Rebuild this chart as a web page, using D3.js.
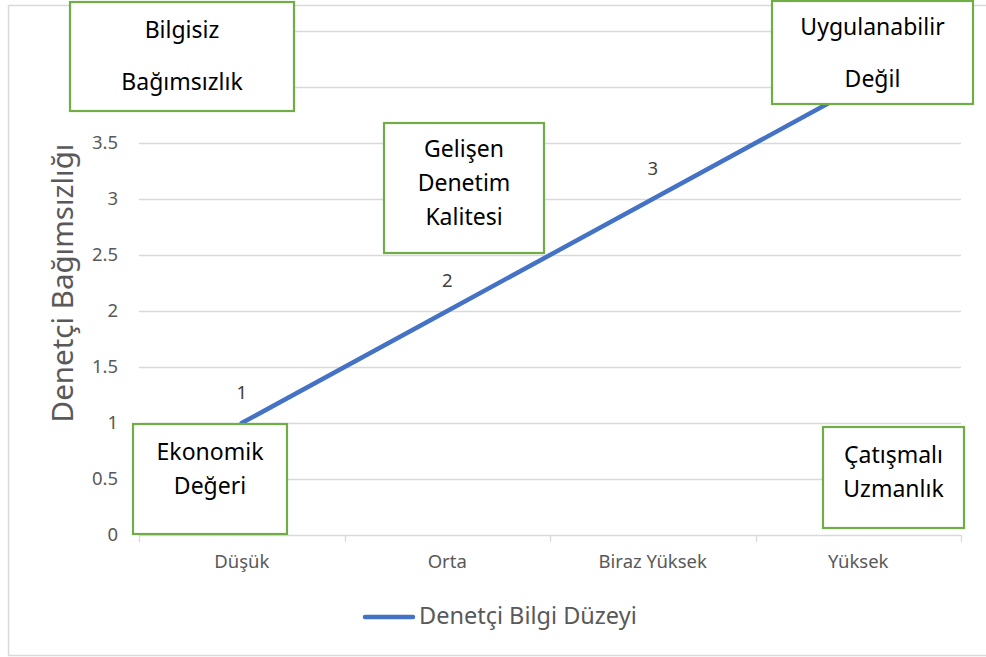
<!DOCTYPE html>
<html>
<head>
<meta charset="utf-8">
<script src="https://cdn.jsdelivr.net/npm/d3@7"></script>
<style>
  body { margin: 0; background: #fff; }
  svg text { font-family: "Noto Sans", "Open Sans", sans-serif; }
</style>
</head>
<body>
<div id="chart"></div>
<script>
// chart data
var categories = ["Düşük", "Orta", "Biraz Yüksek", "Yüksek"];
var values = [1, 2, 3, 4];
var yTicks = [0, 0.5, 1, 1.5, 2, 2.5, 3, 3.5, 4, 4.5];
var seriesName = "Denetçi Bilgi Düzeyi";
var yTitle = "Denetçi Bağımsızlığı";

// annotation box texts
var boxTexts = [
    ["Bilgisiz", "Bağımsızlık"],
    ["Uygulanabilir", "Değil"],
    ["Gelişen", "Denetim", "Kalitesi"],
    ["Ekonomik", "Değeri"],
    ["Çatışmalı", "Uzmanlık"]
];

// box layout (pixels): x, y, w, h, first baseline, line gap
var boxLayout = [
    { x: 70, y: 2, w: 224, h: 109, first: 38, gap: 52 },
    { x: 772, y: 1, w: 201, h: 103, first: 35, gap: 52 },
    { x: 384, y: 123, w: 160, h: 130, first: 157, gap: 34 },
    { x: 133, y: 424, w: 154, h: 110, first: 460, gap: 34 },
    { x: 823, y: 427, w: 141, h: 101, first: 463, gap: 34 }
];

var width = 986, height = 657;
var margin = { left: 139, right: 25, top: 31, bottom: 122 };

var svg = d3.select("#chart").append("svg")
    .attr("width", width)
    .attr("height", height);

// outer chart border
svg.append("rect")
    .attr("x", 8.5).attr("y", 5.5)
    .attr("width", 990).attr("height", 650)
    .attr("fill", "#fff")
    .attr("stroke", "#d9d9d9")
    .attr("stroke-width", 1.5);

var x = d3.scaleBand()
    .domain(categories)
    .range([margin.left, width - margin.right]);

var y = d3.scaleLinear()
    .domain([0, 4.5])
    .range([height - margin.bottom, margin.top]);

// gridlines
svg.append("g").selectAll("line")
    .data(yTicks)
    .enter().append("line")
    .attr("x1", x.range()[0]).attr("x2", x.range()[1])
    .attr("y1", function(d) { return Math.round(y(d)) + 0.5; })
    .attr("y2", function(d) { return Math.round(y(d)) + 0.5; })
    .attr("stroke", "#d9d9d9")
    .attr("stroke-width", 1.3);

// y tick labels
svg.append("g").selectAll("text")
    .data(yTicks)
    .enter().append("text")
    .attr("x", 118)
    .attr("y", function(d) { return y(d); })
    .attr("dy", "0.35em")
    .attr("text-anchor", "end")
    .attr("fill", "#595959")
    .style("font-size", "18.5px")
    .text(function(d) { return d; });

// x axis ticks at band boundaries
var bounds = categories.map(function(c) { return x(c); }).concat([x.range()[1]]);
svg.append("g").selectAll("line")
    .data(bounds)
    .enter().append("line")
    .attr("x1", function(d) { return Math.round(d) + 0.5; })
    .attr("x2", function(d) { return Math.round(d) + 0.5; })
    .attr("y1", y(0)).attr("y2", y(0) + 7)
    .attr("stroke", "#d9d9d9")
    .attr("stroke-width", 1.3);

// x labels
svg.append("g").selectAll("text")
    .data(categories)
    .enter().append("text")
    .attr("x", function(d) { return x(d) + x.bandwidth() / 2; })
    .attr("y", 568)
    .attr("text-anchor", "middle")
    .attr("fill", "#595959")
    .style("font-size", "18.5px")
    .text(function(d) { return d; });

// y title
svg.append("text")
    .attr("transform", "translate(73," + 283 + ") rotate(-90)")
    .attr("text-anchor", "middle")
    .attr("fill", "#595959")
    .style("font-size", "29.5px")
    .text(yTitle);

// line
var line = d3.line()
    .x(function(d, i) { return x(categories[i]) + x.bandwidth() / 2; })
    .y(function(d) { return y(d); });

svg.append("path")
    .datum(values)
    .attr("d", line)
    .attr("fill", "none")
    .attr("stroke", "#4472C4")
    .attr("stroke-width", 4.5)
    .attr("stroke-linecap", "round");

// data labels (the last one sits under the top-right box, so it is left out)
svg.append("g").selectAll("text")
    .data(values.slice(0, values.length - 1))
    .enter().append("text")
    .attr("x", function(d, i) { return x(categories[i]) + x.bandwidth() / 2; })
    .attr("y", function(d) { return y(d) - 24; })
    .attr("text-anchor", "middle")
    .attr("fill", "#404040")
    .style("font-size", "18.5px")
    .text(function(d) { return d; });

// legend
svg.append("line")
    .attr("x1", 365).attr("x2", 413)
    .attr("y1", 617).attr("y2", 617)
    .attr("stroke", "#4472C4")
    .attr("stroke-width", 4.5)
    .attr("stroke-linecap", "round");

svg.append("text")
    .attr("x", 419).attr("y", 624)
    .attr("fill", "#595959")
    .style("font-size", "23.5px")
    .text(seriesName);

// annotation boxes
var boxes = svg.append("g").selectAll("g")
    .data(boxTexts)
    .enter().append("g");

boxes.append("rect")
    .attr("x", function(d, i) { return boxLayout[i].x; })
    .attr("y", function(d, i) { return boxLayout[i].y; })
    .attr("width", function(d, i) { return boxLayout[i].w; })
    .attr("height", function(d, i) { return boxLayout[i].h; })
    .attr("fill", "#fff")
    .attr("stroke", "#70AD47")
    .attr("stroke-width", 2.2);

boxes.each(function(d, i) {
    var b = boxLayout[i];
    d3.select(this).selectAll("text")
        .data(d)
        .enter().append("text")
        .attr("x", b.x + b.w / 2)
        .attr("y", function(t, j) { return b.first + j * b.gap; })
        .attr("text-anchor", "middle")
        .attr("fill", "#000")
        .style("font-size", "23px")
        .text(function(t) { return t; });
});
</script>
</body>
</html>
